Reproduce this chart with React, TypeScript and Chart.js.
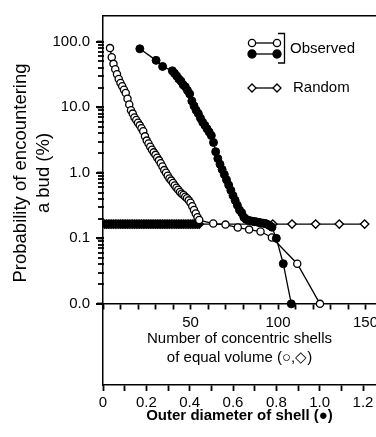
import React, { useEffect, useRef } from 'react';
import { Chart, registerables } from 'chart.js';

Chart.register(...registerables);

const FONT = '"Liberation Sans", Arial, Helvetica, sans-serif';

// Observed probability vs number of concentric shells of equal volume (open circles)
const shellsObserved = [
  4, 5, 6, 7, 8, 9, 10, 11, 12, 13, 14, 15, 16, 17, 18, 19, 20, 21, 22, 23, 24, 25, 26, 27, 28, 29,
  30, 31, 32, 33, 34, 35, 36, 37, 38, 39, 40, 41, 42, 43, 44, 45, 46, 47, 48, 49, 50, 51, 52, 53, 54, 55,
  63, 70, 77, 83.5, 90, 96.5, 111, 124,
];
const probObserved = [
  80, 58, 46, 38, 32, 27, 23.5, 21, 18.5, 16.5, 13.5, 11, 9.0, 8.0, 7.0, 6.4, 5.8, 5.3, 4.8, 4.3, 3.6, 3.1, 2.8, 2.5, 2.25, 2.05,
  1.88, 1.7, 1.55, 1.4, 1.25, 1.1, 1.0, 0.9, 0.82, 0.76, 0.7, 0.64, 0.59, 0.55, 0.51, 0.48, 0.46, 0.43, 0.41, 0.38, 0.35, 0.31, 0.27, 0.24, 0.21, 0.19,
  0.168, 0.162, 0.146, 0.136, 0.127, 0.103, 0.041, 0.01,
];

// Observed probability vs outer diameter of shell (filled circles)
const diameterObserved = [
  0.17, 0.245, 0.275, 0.32, 0.33, 0.34, 0.35, 0.36, 0.37, 0.38, 0.39, 0.4, 0.41, 0.42, 0.43, 0.44, 0.45, 0.46, 0.47, 0.48,
  0.49, 0.5, 0.51, 0.52, 0.53, 0.54, 0.55, 0.56, 0.57, 0.58, 0.59, 0.6, 0.61, 0.62, 0.63, 0.64, 0.65, 0.66, 0.67, 0.68,
  0.69, 0.7, 0.71, 0.72, 0.73, 0.74, 0.75, 0.76, 0.77, 0.78, 0.8, 0.832, 0.869,
];
const probDiameter = [
  78, 52, 42, 36, 33, 30, 27, 25, 22, 20.5, 18, 16, 12.5, 10.5, 9, 8, 6.8, 5.9, 5.3, 4.7,
  4.2, 3.7, 2.9, 2.1, 1.65, 1.35, 1.12, 0.94, 0.78, 0.65, 0.54, 0.45, 0.38, 0.32, 0.27, 0.245, 0.21, 0.195, 0.188, 0.185,
  0.182, 0.18, 0.178, 0.175, 0.172, 0.17, 0.168, 0.163, 0.156, 0.148, 0.1, 0.041, 0.01,
];

// Random expectation vs number of shells (diamonds)
const shellsRandom = [
  1, 2, 3, 4, 5, 6, 7, 8, 9, 10, 11, 12, 13, 14, 15, 16, 17, 18, 19, 20, 21, 22, 23, 24, 25, 26, 27, 28,
  29, 30, 31, 32, 33, 34, 35, 36, 37, 38, 39, 40, 41, 42, 43, 44, 45, 46, 47, 48, 49, 50, 51, 52, 53, 54, 55,
  97, 108, 121.5, 135, 149.5,
];
const probRandom = [
  0.165, 0.165, 0.165, 0.165, 0.165, 0.165, 0.165, 0.165, 0.165, 0.165, 0.165, 0.165, 0.165, 0.165, 0.165,
  0.165, 0.165, 0.165, 0.165, 0.165, 0.165, 0.165, 0.165, 0.165, 0.165, 0.165, 0.165, 0.165, 0.165, 0.165,
  0.165, 0.165, 0.165, 0.165, 0.165, 0.165, 0.165, 0.165, 0.165, 0.165, 0.165, 0.165, 0.165, 0.165, 0.165,
  0.165, 0.165, 0.165, 0.165, 0.165, 0.165, 0.165, 0.165, 0.165, 0.165,
  0.165, 0.165, 0.165, 0.165, 0.165,
];

// Tick labels
const yMajorValues = [100, 10, 1, 0.1, 0.01];
const yMajorLabels = ['100.0', '10.0', '1.0', '0.1', '0.0'];
const yMinorDecades = [10, 1, 0.1, 0.01];
const yMinorSignificands = [2, 3, 4, 5, 6, 7, 8, 9];
const diameterTickValues = [0, 0.2, 0.4, 0.6, 0.8, 1.0, 1.2];
const diameterTickLabels = ['0', '0.2', '0.4', '0.6', '0.8', '1.0', '1.2'];
const shellTickValues = [50, 100, 150];
const shellTickLabels = ['50', '100', '150'];

const yTitleLines = ['Probability of encountering', 'a bud (%)'];
const shellAxisTitle = ['Number of concentric shells', 'of equal volume (○,◇)'];
const diameterAxisTitle = 'Outer diameter of shell (●)';
const legendObserved = 'Observed';
const legendRandom = 'Random';

const toPoints = (xs: number[], ys: number[]) => xs.map((x, i) => ({ x, y: ys[i] }));

export default function App() {
  const ref = useRef<HTMLCanvasElement>(null);

  useEffect(() => {
    document.body.style.margin = '0';
    const canvas = ref.current!;

    const overlayPlugin = {
      id: 'overlay',
      afterDraw(chart: any) {
        const ctx = chart.ctx as CanvasRenderingContext2D;
        ctx.save();
        ctx.fillStyle = '#000';
        ctx.strokeStyle = '#000';
        // tick marks on the log axis, placed by the y scale
        const ys = chart.scales.y;
        const axisX = chart.chartArea.left;
        ctx.lineWidth = 2;
        yMajorValues.forEach((m) => {
          const py = Math.round(ys.getPixelForValue(m));
          ctx.beginPath();
          ctx.moveTo(axisX - 7, py);
          ctx.lineTo(axisX + 1, py);
          ctx.stroke();
        });
        ctx.lineWidth = 1.8;
        yMinorDecades.forEach((m) => {
          yMinorSignificands.forEach((k) => {
            const py = Math.round(ys.getPixelForValue(k * m));
            ctx.beginPath();
            ctx.moveTo(axisX - 5, py);
            ctx.lineTo(axisX + 1, py);
            ctx.stroke();
          });
        });
        // y-axis title
        ctx.font = `18.5px ${FONT}`;
        ctx.textAlign = 'center';
        ctx.textBaseline = 'middle';
        const tx = [21, 44];
        yTitleLines.forEach((t, i) => {
          ctx.save();
          ctx.translate(tx[i], 173);
          ctx.rotate(-Math.PI / 2);
          ctx.fillText(t, 0, 0);
          ctx.restore();
        });
        // legend
        ctx.lineWidth = 1.3;
        const circle = (x: number, y: number, r: number, fill: string) => {
          ctx.beginPath();
          ctx.arc(x, y, r, 0, Math.PI * 2);
          ctx.fillStyle = fill;
          ctx.fill();
          ctx.stroke();
        };
        const diamond = (x: number, y: number, r: number) => {
          ctx.beginPath();
          ctx.moveTo(x - r, y);
          ctx.lineTo(x, y - r);
          ctx.lineTo(x + r, y);
          ctx.lineTo(x, y + r);
          ctx.closePath();
          ctx.fillStyle = '#fff';
          ctx.fill();
          ctx.stroke();
        };
        const seg = (x1: number, x2: number, y: number) => {
          ctx.beginPath();
          ctx.moveTo(x1, y);
          ctx.lineTo(x2, y);
          ctx.stroke();
        };
        seg(252, 277, 43);
        circle(252, 43, 3.6, '#fff');
        circle(277, 43, 3.6, '#fff');
        seg(252, 277, 54);
        circle(252, 54, 4, '#000');
        circle(277, 54, 4, '#000');
        ctx.beginPath();
        ctx.moveTo(278, 33.5);
        ctx.lineTo(284.5, 33.5);
        ctx.lineTo(284.5, 63);
        ctx.lineTo(278, 63);
        ctx.stroke();
        seg(252, 277, 88);
        diamond(252, 88, 4);
        diamond(277, 88, 4);
        ctx.fillStyle = '#000';
        ctx.font = `15px ${FONT}`;
        ctx.textAlign = 'left';
        ctx.textBaseline = 'middle';
        ctx.fillText(legendObserved, 290, 49);
        ctx.fillText(legendRandom, 293, 88);
        ctx.restore();
      },
    };

    const labelFor = (values: number[], labels: string[], v: number, log = false) => {
      const i = values.findIndex((m) =>
        log ? Math.abs(Math.log10(v) - Math.log10(m)) < 1e-6 : Math.abs(v - m) < 1e-6
      );
      return i >= 0 ? labels[i] : '';
    };

    const chart = new Chart(canvas, {
      type: 'line',
      data: {
        datasets: [
          {
            label: 'Observed (diameter)',
            data: toPoints(diameterObserved, probDiameter),
            xAxisID: 'x',
            yAxisID: 'y',
            borderColor: '#000',
            borderWidth: 1.3,
            pointStyle: 'circle',
            pointRadius: 4,
            pointBackgroundColor: '#000',
            pointBorderColor: '#000',
            pointBorderWidth: 1,
            tension: 0,
            fill: false,
          },
          {
            label: 'Observed (shells)',
            data: toPoints(shellsObserved, probObserved),
            xAxisID: 'x2',
            yAxisID: 'y',
            borderColor: '#000',
            borderWidth: 1.3,
            pointStyle: 'circle',
            pointRadius: 3.6,
            pointBackgroundColor: '#fff',
            pointBorderColor: '#000',
            pointBorderWidth: 1.3,
            tension: 0,
            fill: false,
          },
          {
            label: 'Random',
            data: toPoints(shellsRandom, probRandom),
            xAxisID: 'x2',
            yAxisID: 'y',
            borderColor: '#000',
            borderWidth: 1.3,
            pointStyle: 'rectRot',
            pointRadius: 4.2,
            pointBackgroundColor: (c: any) => (c.raw && c.raw.x <= 55 ? '#000' : '#fff'),
            pointBorderColor: '#000',
            pointBorderWidth: 1.4,
            tension: 0,
            fill: false,
          },
        ],
      },
      options: {
        animation: false,
        responsive: false,
        devicePixelRatio: 1,
        layout: { autoPadding: false, padding: { top: 12, left: 0, right: 0, bottom: 0 } },
        plugins: { legend: { display: false }, tooltip: { enabled: false } },
        scales: {
          x: {
            type: 'linear',
            position: 'bottom',
            min: 0,
            max: 1.26,
            ticks: {
              stepSize: 0.1,
              includeBounds: false,
              autoSkip: false,
              maxRotation: 0,
              padding: 3,
              color: '#000',
              font: { family: FONT, size: 15 },
              callback: (v: any) => labelFor(diameterTickValues, diameterTickLabels, Number(v)),
            },
            grid: { drawOnChartArea: false, tickLength: 6, color: '#000', tickWidth: 1.8 },
            border: { color: '#000', width: 1.5 },
            title: {
              display: true,
              text: diameterAxisTitle,
              color: '#000',
              font: { family: FONT, size: 15, weight: 'bold' },
              padding: { top: 4, bottom: 12 },
            },
            afterFit: (s: any) => {
              s.height = 52;
              s.paddingLeft = 0;
              s.paddingRight = 0;
            },
          },
          x2: {
            type: 'linear',
            axis: 'x',
            position: { y: 0.01 },
            min: 0,
            max: 156,
            ticks: {
              stepSize: 10,
              includeBounds: false,
              autoSkip: false,
              maxRotation: 0,
              padding: 5,
              color: '#000',
              font: { family: FONT, size: 15 },
              callback: (v: any) => labelFor(shellTickValues, shellTickLabels, Number(v)),
            },
            grid: { drawOnChartArea: false, tickLength: 5, color: '#000', tickWidth: 1.8 },
            border: { color: '#000', width: 1.5 },
            title: {
              display: true,
              text: shellAxisTitle,
              color: '#000',
              font: { family: FONT, size: 15, lineHeight: 1.3 },
              padding: { top: 0, bottom: 0 },
            },
            afterFit: (s: any) => {
              s.height = 64;
              s.paddingLeft = 0;
              s.paddingRight = 0;
            },
          },
          x3: {
            type: 'linear',
            position: 'top',
            display: true,
            ticks: { display: false },
            grid: { display: true, drawOnChartArea: false, drawTicks: false, color: '#000' },
            border: { display: true, color: '#000', width: 1.5 },
          },
          y: {
            type: 'logarithmic',
            position: 'left',
            min: 0.000578,
            max: 247,
            afterBuildTicks: (s: any) => {
              s.ticks = yMajorValues.map((v) => ({ value: v, major: true }));
            },
            ticks: {
              autoSkip: false,
              padding: 7,
              color: '#000',
              font: { family: FONT, size: 15 },
              callback: (v: any) => labelFor(yMajorValues, yMajorLabels, Number(v), true),
            },
            grid: {
              drawOnChartArea: false,
              tickLength: 6,
              color: '#000',
              tickColor: '#000',
              tickWidth: 1.8,
            },
            border: { color: '#000', width: 1.5 },
            afterFit: (s: any) => {
              s.width = 103;
            },
          },
        },
      } as any,
      plugins: [overlayPlugin],
    });

    return () => chart.destroy();
  }, []);

  return <canvas ref={ref} width={376} height={437} style={{ display: 'block' }} />;
}
